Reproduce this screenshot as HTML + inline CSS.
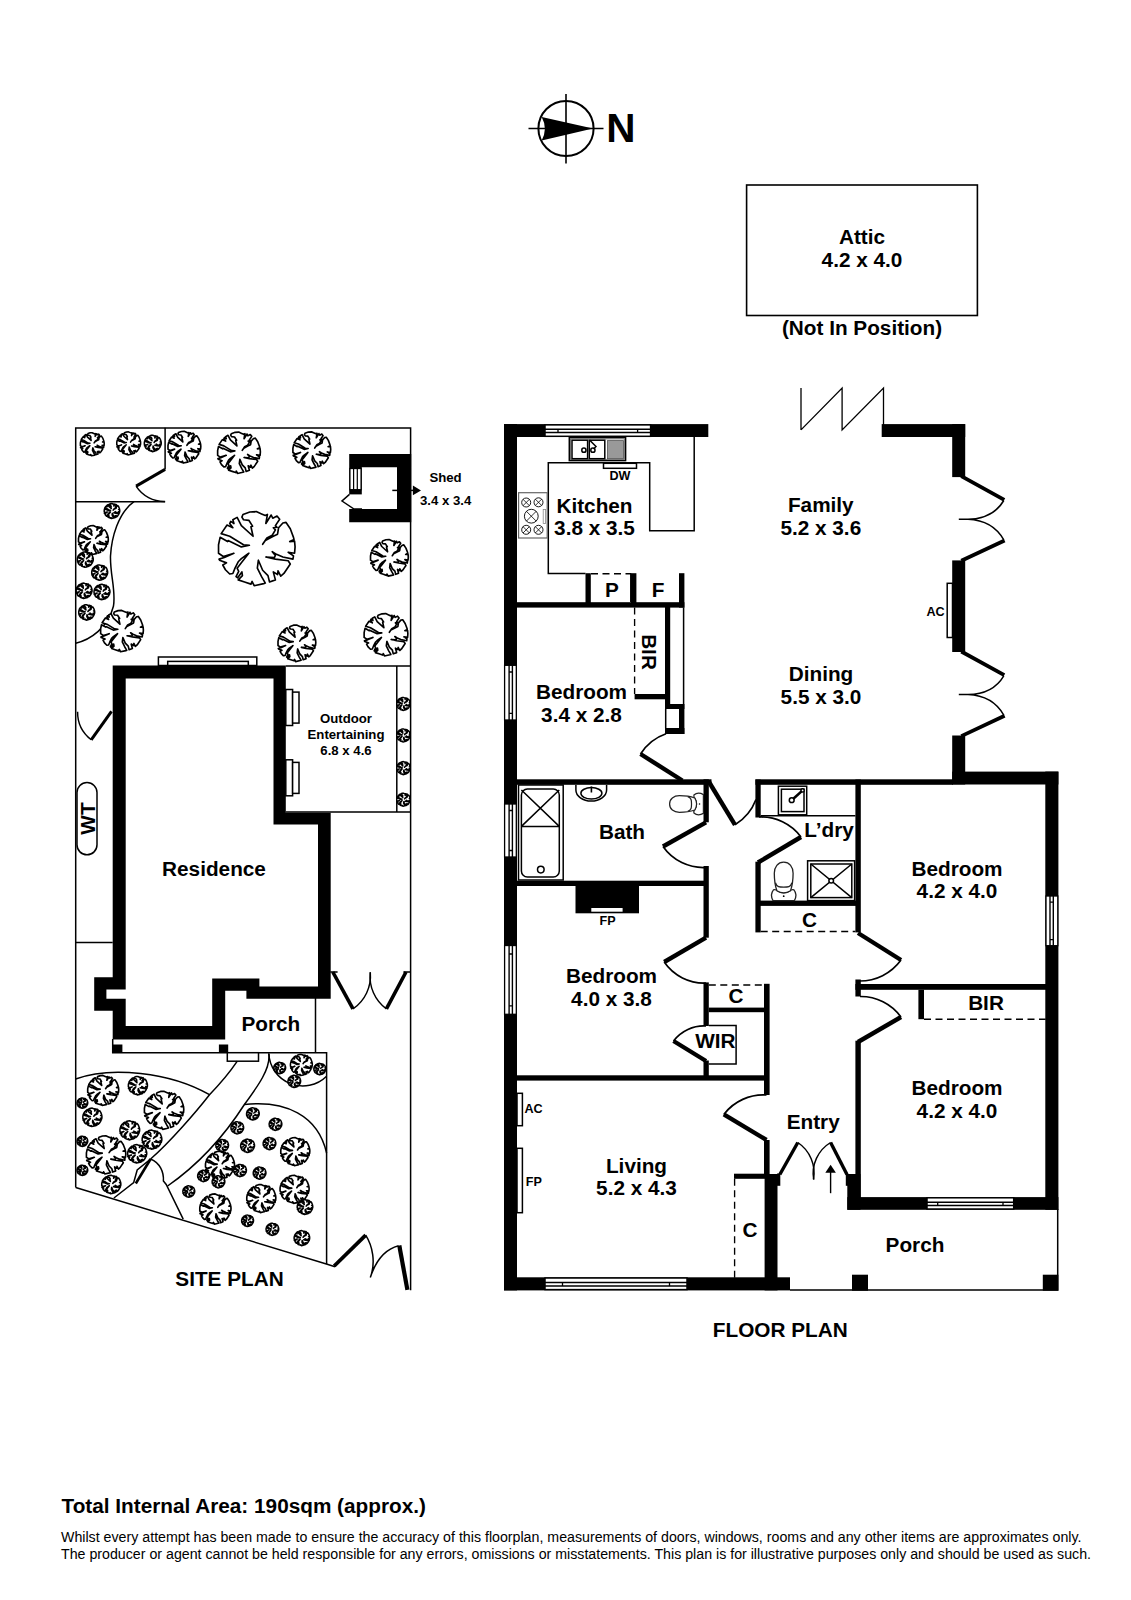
<!DOCTYPE html>
<html><head><meta charset="utf-8"><title>Floor Plan</title>
<style>
html,body{margin:0;padding:0;background:#fff}
body{width:1131px;height:1600px;overflow:hidden;font-family:"Liberation Sans",Arial,sans-serif}
svg{display:block}
text{font-family:"Liberation Sans",Arial,sans-serif;font-weight:bold;fill:#000}
.l{font-size:20.75px;text-anchor:middle}
.s{font-size:12.6px}
.m{font-size:13.2px;text-anchor:middle}
.w{fill:#000;stroke:none}
.t{fill:none;stroke:#000;stroke-width:1.5}
.tw{fill:#fff;stroke:#000;stroke-width:1.5}
.d{fill:none;stroke:#000;stroke-width:1.35;stroke-dasharray:7 4.5}
.dr{fill:none;stroke:#000;stroke-width:4;stroke-linecap:butt}
.g{fill:none;stroke:#777;stroke-width:1}
</style></head><body>
<svg width="1131" height="1600" viewBox="0 0 1131 1600">
<defs><path id="tr" d="M-0.359 -0.884 L-0.180 -0.948 L-0.014 -0.959 L0.124 -0.898 L0.221 -0.856 L0.276 -0.884 L0.235 -0.649 L0.373 -0.870 L0.414 -0.787 L0.525 -0.843 L0.594 -0.760 L0.483 -0.594 L0.525 -0.552 L0.428 -0.539 L0.483 -0.483 L0.401 -0.345 L0.262 -0.276 L0.152 -0.110 L0.221 -0.207 L0.428 -0.318 L0.539 -0.373 L0.566 -0.539 L0.677 -0.663 L0.760 -0.677 L0.870 -0.511 L0.953 -0.290 L0.967 -0.235 L0.856 -0.180 L0.981 -0.193 L0.994 -0.041 L0.981 0.124 L0.815 0.097 L0.953 0.193 L0.939 0.276 L0.677 0.221 L0.511 0.152 L0.401 0.083 L0.483 0.180 L0.456 0.235 L0.235 0.221 L0.483 0.276 L0.815 0.318 L0.870 0.401 L0.704 0.649 L0.622 0.718 L0.552 0.580 L0.539 0.677 L0.428 0.608 L0.483 0.815 L0.331 0.870 L0.290 0.704 L0.152 0.566 L0.041 0.304 L0.014 0.511 L0.124 0.732 L0.221 0.898 L0.180 0.912 L-0.069 0.967 L-0.124 0.856 L-0.152 0.925 L-0.318 0.870 L-0.483 0.815 L-0.373 0.704 L-0.387 0.608 L-0.497 0.760 L-0.539 0.732 L-0.470 0.594 L-0.511 0.511 L-0.401 0.373 L-0.207 0.124 L-0.401 0.262 L-0.483 0.345 L-0.566 0.511 L-0.622 0.649 L-0.704 0.663 L-0.815 0.552 L-0.884 0.428 L-0.787 0.373 L-0.967 0.304 L-0.981 0.276 L-0.843 0.235 L-0.594 0.124 L-0.870 0.207 L-0.994 0.124 L-0.994 -0.097 L-0.953 -0.290 L-0.760 -0.180 L-0.746 -0.207 L-0.401 -0.041 L-0.193 -0.083 L-0.345 -0.097 L-0.704 -0.318 L-0.925 -0.387 L-0.773 -0.608 L-0.622 -0.539 L-0.704 -0.649 L-0.677 -0.704 L-0.594 -0.649 L-0.622 -0.746 L-0.511 -0.809 L-0.401 -0.594 L-0.097 -0.318 L-0.152 -0.566 L-0.110 -0.580 L-0.207 -0.732 L-0.345 -0.746 L-0.387 -0.815Z" fill="#fff" stroke="#000" vector-effect="non-scaling-stroke" stroke-linejoin="round"/></defs>
<rect width="1131" height="1600" fill="#fff"/>

<g id="compass">
<circle cx="566" cy="128.5" r="27.6" fill="none" stroke="#000" stroke-width="2"/>
<path d="M528.5 128.5H603.5M566 94V163.5" stroke="#000" stroke-width="1.6" fill="none"/>
<path d="M593 128.5L541.7 117Q548 128.5 541.7 140.5Z" fill="#000"/>
<text x="606.3" y="141.5" style="font-size:40.5px">N</text>
</g>
<g id="attic">
<rect x="746.6" y="185" width="230.8" height="130.5" class="t" style="stroke-width:1.6"/>
<text x="862" y="243.8" class="l">Attic</text>
<text x="862" y="266.7" class="l">4.2 x 4.0</text>
<text x="862" y="334.6" class="l">(Not In Position)</text>
</g>
<g id="floor">
<rect class="w" x="504.0" y="424.1" width="13.0" height="866.3"/>
<rect class="w" x="504.0" y="424.1" width="204.3" height="12.9"/>
<rect class="w" x="881.7" y="424.1" width="83.5" height="12.9"/>
<rect class="w" x="952.2" y="424.1" width="13.0" height="53.0"/>
<rect class="w" x="952.2" y="560.4" width="13.0" height="91.6"/>
<rect class="w" x="952.2" y="735.5" width="13.0" height="49.0"/>
<rect class="w" x="952.2" y="771.6" width="106.2" height="12.9"/>
<rect class="w" x="1045.3" y="771.6" width="13.1" height="438.2"/>
<rect class="w" x="847.3" y="1197.1" width="211.1" height="12.7"/>
<rect class="w" x="847.3" y="1174.0" width="13.2" height="35.8"/>
<rect class="w" x="764.6" y="1174.0" width="12.9" height="116.4"/>
<rect class="w" x="504.0" y="1277.3" width="286.0" height="13.1"/>
<rect class="w" x="852.0" y="1274.7" width="16.0" height="16.0"/>
<rect class="w" x="1042.8" y="1274.7" width="15.6" height="16.0"/>
<rect class="w" x="517.0" y="602.2" width="167.4" height="5.4"/>
<rect class="w" x="585.5" y="573.2" width="5.3" height="29.8"/>
<rect class="w" x="631.0" y="573.2" width="5.4" height="29.8"/>
<rect class="w" x="679.0" y="573.2" width="5.4" height="34.4"/>
<rect class="w" x="679.0" y="704.0" width="5.4" height="30.0"/>
<rect class="w" x="665.0" y="605.0" width="5.2" height="104.0"/>
<rect class="w" x="665.0" y="704.0" width="19.4" height="5.0"/>
<rect class="w" x="665.0" y="728.0" width="19.4" height="6.0"/>
<rect class="w" x="634.6" y="694.0" width="33.4" height="5.3"/>
<rect class="w" x="517.0" y="779.3" width="194.5" height="5.5"/>
<rect class="w" x="755.4" y="779.3" width="197.6" height="5.5"/>
<rect class="w" x="703.5" y="779.3" width="5.3" height="43.0"/>
<rect class="w" x="703.5" y="866.0" width="5.3" height="71.7"/>
<rect class="w" x="703.5" y="982.4" width="5.3" height="43.6"/>
<rect class="w" x="703.5" y="1060.5" width="5.3" height="17.5"/>
<rect class="w" x="517.0" y="880.7" width="189.0" height="5.3"/>
<rect class="w" x="764.0" y="983.8" width="5.6" height="111.2"/>
<rect class="w" x="764.0" y="1140.0" width="5.6" height="36.0"/>
<rect class="w" x="777.0" y="1173.5" width="3.3" height="12.3"/>
<rect class="w" x="845.8" y="1173.5" width="2.2" height="12.3"/>
<rect class="w" x="708.8" y="1007.6" width="56.2" height="4.6"/>
<rect class="w" x="517.0" y="1075.3" width="249.0" height="5.3"/>
<rect class="w" x="734.0" y="1173.7" width="32.0" height="5.1"/>
<rect class="w" x="755.4" y="779.5" width="5.3" height="38.0"/>
<rect class="w" x="755.4" y="861.7" width="5.3" height="70.7"/>
<rect class="w" x="855.4" y="779.5" width="5.4" height="152.9"/>
<rect class="w" x="855.4" y="979.5" width="5.4" height="17.0"/>
<rect class="w" x="855.4" y="1040.7" width="5.4" height="158.3"/>
<rect class="w" x="758.0" y="900.6" width="100.0" height="5.3"/>
<rect class="w" x="855.4" y="984.0" width="191.6" height="5.8"/>
<rect class="w" x="918.4" y="989.8" width="5.6" height="29.4"/>
<rect class="w" x="575.5" y="886.0" width="63.5" height="27.3"/>
<rect x="545.0" y="424.9" width="105.6" height="11.4" fill="#fff" stroke="#000" stroke-width="1.5"/>
<path d="M545.0 429.3H650.6M545.0 432.6H650.6" stroke="#000" stroke-width="1.5" fill="none"/>
<path d="M558.0 429.3V432.6M637.6 429.3V432.6" stroke="#000" stroke-width="1.3" fill="none"/>
<rect x="545.0" y="1278.0" width="142.0" height="11.6" fill="#fff" stroke="#000" stroke-width="1.5"/>
<path d="M545.0 1282.5H687.0M545.0 1285.9H687.0" stroke="#000" stroke-width="1.5" fill="none"/>
<path d="M562.5 1282.5V1285.9M669.5 1282.5V1285.9" stroke="#000" stroke-width="1.3" fill="none"/>
<rect x="927.0" y="1197.8" width="86.7" height="11.2" fill="#fff" stroke="#000" stroke-width="1.5"/>
<path d="M927.0 1202.2H1013.7M927.0 1205.5H1013.7" stroke="#000" stroke-width="1.5" fill="none"/>
<path d="M937.7 1202.2V1205.5M1003.0 1202.2V1205.5" stroke="#000" stroke-width="1.3" fill="none"/>
<rect x="504.6" y="665.3" width="11.7" height="54.7" fill="#fff" stroke="#000" stroke-width="1.3"/>
<path d="M509.1 665.3V720.0M512.4 665.3V720.0" stroke="#000" stroke-width="1.4" fill="none"/>
<path d="M509.1 672.0H512.4M509.1 713.3H512.4" stroke="#000" stroke-width="1.3" fill="none"/>
<rect x="504.6" y="804.0" width="11.7" height="53.0" fill="#fff" stroke="#000" stroke-width="1.3"/>
<path d="M509.1 804.0V857.0M512.4 804.0V857.0" stroke="#000" stroke-width="1.4" fill="none"/>
<path d="M509.1 810.5H512.4M509.1 850.5H512.4" stroke="#000" stroke-width="1.3" fill="none"/>
<rect x="504.6" y="945.5" width="11.7" height="68.8" fill="#fff" stroke="#000" stroke-width="1.3"/>
<path d="M509.1 945.5V1014.3M512.4 945.5V1014.3" stroke="#000" stroke-width="1.4" fill="none"/>
<path d="M509.1 954.0H512.4M509.1 1005.8H512.4" stroke="#000" stroke-width="1.3" fill="none"/>
<rect x="1046.0" y="896.0" width="11.8" height="49.7" fill="#fff" stroke="#000" stroke-width="1.3"/>
<path d="M1053.3 896.0V945.7M1050.0 896.0V945.7" stroke="#000" stroke-width="1.4" fill="none"/>
<path d="M1053.3 902.1H1050.0M1053.3 939.6H1050.0" stroke="#000" stroke-width="1.3" fill="none"/>
<rect x="591.3" y="908" width="31.3" height="3.7" fill="#fff"/>
<path class="t" d="M694.2 437V530.8H649.7V462.8H548.3V573.5H585.5"/>
<path class="t" d="M630.8 573.5V602"/>
<path class="d" d="M591 573.7H631"/>
<rect class="tw" x="603.5" y="463.3" width="33" height="5"/>
<rect class="tw" x="569.3" y="437.6" width="56.3" height="23"/><rect class="t" x="570.6" y="438.9" width="53.7" height="20.4" style="stroke:#555;stroke-width:.8"/>
<rect class="tw" x="572" y="440.2" width="15.6" height="18.5"/><rect class="tw" x="589.3" y="440.2" width="15.5" height="18.5"/>
<rect x="607.5" y="440.6" width="16" height="18" fill="#999" stroke="#555" stroke-width=".8"/>
<circle cx="583.9" cy="450.2" r="2.1" class="tw"/><circle cx="592.9" cy="450.2" r="2.1" class="tw"/><path class="t" d="M589.5 440L596 446.5L593.5 449"/>
<rect x="518.6" y="492.7" width="28.6" height="45.3" fill="#fff" stroke="#666" stroke-width="1.2"/>
<circle cx="526.2" cy="502.5" r="4.5" class="tw" style="stroke-width:.9"/><path d="M523.0 499.3L529.4 505.7M529.4 499.3L523.0 505.7" class="t" style="stroke-width:.8"/>
<circle cx="538.5" cy="502.3" r="4.5" class="tw" style="stroke-width:.9"/><path d="M535.3 499.1L541.7 505.5M541.7 499.1L535.3 505.5" class="t" style="stroke-width:.8"/>
<circle cx="531.3" cy="516.2" r="6.9" class="tw" style="stroke-width:.9"/><path d="M526.3 511.2L536.3 521.2M536.3 511.2L526.3 521.2" class="t" style="stroke-width:.8"/>
<circle cx="526.2" cy="529.8" r="4.5" class="tw" style="stroke-width:.9"/><path d="M523.0 526.6L529.4 533.0M529.4 526.6L523.0 533.0" class="t" style="stroke-width:.8"/>
<circle cx="538.5" cy="529.8" r="4.5" class="tw" style="stroke-width:.9"/><path d="M535.3 526.6L541.7 533.0M541.7 526.6L535.3 533.0" class="t" style="stroke-width:.8"/>
<rect x="543.2" y="509.5" width="2.4" height="14" fill="none" stroke="#888" stroke-width=".8"/>
<path class="d" d="M634.6 607.6V694"/>
<path class="t" d="M683.6 607.6V704M665.7 709V728"/>
<rect class="tw" x="517" y="1093.3" width="5.4" height="32.4"/>
<rect class="tw" x="517" y="1148.3" width="5.4" height="64.4"/>
<rect class="tw" x="947.2" y="583.3" width="5.3" height="54.2"/>
<rect class="tw" x="518.5" y="785" width="44.7" height="95"/>
<rect class="tw" x="521.4" y="789" width="37.9" height="88" rx="6" ry="6"/>
<path class="t" d="M521.4 790L559.3 826.4M559.3 790L521.4 826.4M521.4 826.4H559.3"/>
<circle cx="540.8" cy="869.6" r="3.3" class="tw"/>
<path class="tw" d="M575.9 785V790A15.3 11 0 0 0 606.6 790V785"/>
<ellipse cx="591.4" cy="793.3" rx="10.5" ry="5.7" class="tw"/><path class="t" d="M591.4 786.5V792.5" style="stroke-width:1.6"/>
<g transform="translate(703.4 804) rotate(-90) scale(.88)" style="stroke-width:1.3"><path class="tw" style="stroke-width:1.4;stroke:#222" d="M-10.7 0C-12.7 -3.8 -12.7 -7.8 -10.2 -10.8C-7.7 -11.3 -6.7 -10.3 -5.7 -9.3C-2.7 -7.3 2.7 -7.3 5.7 -9.3C6.7 -10.3 7.7 -11.3 10.2 -10.8C12.7 -7.8 12.7 -3.8 10.7 0Z"/><path class="tw" style="stroke-width:1.4;stroke:#222" d="M-6.8 -9.8C-8.6 -14.8 -9.4 -20.8 -9.4 -27.3C-9.4 -33.8 -5.8 -38.4 0 -38.4C5.8 -38.4 9.4 -33.8 9.4 -27.3C9.4 -20.8 8.6 -14.8 6.8 -9.8C2.7 -7.3 -2.7 -7.3 -6.8 -9.8Z"/><path class="t" style="stroke-width:1.4;stroke:#222" d="M-8.3 -17.8C-7 -13.5 -4 -13.5 0 -13.5C4 -13.5 7 -13.5 8.3 -17.8"/><circle cx="0" cy="-4.4" r=".9" fill="#000"/></g>
<path class="t" d="M708.8 1025.6H736.1V1064H708.8"/>
<path class="d" d="M708.8 985H763.2"/>
<path class="d" d="M734.6 1178.8V1277.7"/>
<path class="t" d="M760.7 815.7H855.4"/>
<rect class="tw" x="778.4" y="786.2" width="28.3" height="28.6"/><rect class="tw" x="781.4" y="789.2" width="22.6" height="22.4"/>
<path class="t" d="M791.7 800.2L802.6 790.4" style="stroke-width:2.6"/><circle cx="791.7" cy="800.2" r="2.4" class="tw"/><circle cx="802.6" cy="790.4" r="1.6" class="tw"/>
<rect class="tw" x="807.6" y="860.8" width="47" height="39.8"/><rect class="tw" x="810.8" y="864" width="41" height="33.6"/>
<path class="t" d="M810.8 864L851.8 897.6M851.8 864L810.8 897.6"/><circle cx="831.2" cy="880.8" r="2.3" class="tw"/>
<g transform="translate(783.7 900.6)"><path class="tw" style="stroke-width:1.3;stroke:#222" d="M-10.7 0C-12.7 -3.8 -12.7 -7.8 -10.2 -10.8C-7.7 -11.3 -6.7 -10.3 -5.7 -9.3C-2.7 -7.3 2.7 -7.3 5.7 -9.3C6.7 -10.3 7.7 -11.3 10.2 -10.8C12.7 -7.8 12.7 -3.8 10.7 0Z"/><path class="tw" style="stroke-width:1.3;stroke:#222" d="M-6.8 -9.8C-8.6 -14.8 -9.4 -20.8 -9.4 -27.3C-9.4 -33.8 -5.8 -38.4 0 -38.4C5.8 -38.4 9.4 -33.8 9.4 -27.3C9.4 -20.8 8.6 -14.8 6.8 -9.8C2.7 -7.3 -2.7 -7.3 -6.8 -9.8Z"/><path class="t" style="stroke-width:1.3;stroke:#222" d="M-8.3 -17.8C-7 -13.5 -4 -13.5 0 -13.5C4 -13.5 7 -13.5 8.3 -17.8"/><circle cx="0" cy="-4.4" r=".9" fill="#000"/></g>
<path class="d" d="M760.7 931.5H855.4"/>
<path class="d" d="M924 1019.2H1045.7"/>
<path class="t" d="M1057.7 1209V1290.1H790"/>
<path class="t" d="M801 429.9V388M801 429.9L842.1 388V429.9L883.5 388V425" style="stroke-width:1.3"/>
<path class="t" d="M640.5 754.0A49.5 49.5 0 0 1 666.0 733.7" style="stroke-width:1.7"/>
<path class="dr" d="M682.3 780.5L640.5 754.0" style="stroke-width:4.4"/>
<path class="t" d="M735.0 824.8A51.2 51.2 0 0 0 756.0 799.5" style="stroke-width:1.7"/>
<path class="dr" d="M708.4 781.0L735.0 824.8" style="stroke-width:4.4"/>
<path class="t" d="M663.0 846.5A49.3 49.3 0 0 0 706.0 867.5" style="stroke-width:1.7"/>
<path class="dr" d="M706.0 822.3L663.0 846.5" style="stroke-width:4.4"/>
<path class="t" d="M664.2 962.0A48.4 48.4 0 0 0 706.0 983.0" style="stroke-width:1.7"/>
<path class="dr" d="M706.0 937.7L664.2 962.0" style="stroke-width:4.4"/>
<path class="t" d="M673.5 1041.0A38.2 38.2 0 0 1 706.0 1026.0" style="stroke-width:1.7"/>
<path class="dr" d="M706.0 1061.0L673.5 1041.0" style="stroke-width:4.4"/>
<path class="t" d="M723.8 1114.4A49.8 49.8 0 0 1 766.5 1095.0" style="stroke-width:1.7"/>
<path class="dr" d="M766.5 1140.0L723.8 1114.4" style="stroke-width:4.4"/>
<path class="t" d="M801.0 837.0A50.0 50.0 0 0 0 759.0 817.0" style="stroke-width:1.7"/>
<path class="dr" d="M758.0 862.5L801.0 837.0" style="stroke-width:4.4"/>
<path class="t" d="M901.0 960.0A50.8 50.8 0 0 1 859.0 981.0" style="stroke-width:1.7"/>
<path class="dr" d="M858.0 933.0L901.0 960.0" style="stroke-width:4.4"/>
<path class="t" d="M901.0 1017.0A49.7 49.7 0 0 0 860.0 996.5" style="stroke-width:1.7"/>
<path class="dr" d="M858.0 1042.0L901.0 1017.0" style="stroke-width:4.4"/>
<path class="t" d="M797.8 1142.5A36.7 36.7 0 0 1 813.5 1179.5" style="stroke-width:1.45"/>
<path class="dr" d="M779.8 1174.5L797.8 1142.5" style="stroke-width:3.4"/>
<path class="t" d="M830.6 1142.5A36.0 36.0 0 0 0 813.7 1179.5" style="stroke-width:1.45"/>
<path class="dr" d="M847.0 1174.5L830.6 1142.5" style="stroke-width:3.4"/>
<path class="t" d="M830.6 1193.2V1170" style="stroke-width:1.4"/><path d="M830.6 1164.8L825.3 1172.7H835.9Z" fill="#000"/>
<g transform="translate(0 0.0)">
<path class="dr" d="M961.3 476.2L1004.3 499.9M1004.6 540.5L961.3 560.8" style="stroke-width:3.8"/>
<path class="t" d="M1003.8 500.5C997 512 985 519 968 519.3H958.8M968 519.3C985 520 997 528 1003.8 539.9" style="stroke-width:1.5"/>
</g>
<g transform="translate(0 175.3)">
<path class="dr" d="M961.3 476.2L1004.3 499.9M1004.6 540.5L961.3 560.8" style="stroke-width:3.8"/>
<path class="t" d="M1003.8 500.5C997 512 985 519 968 519.3H958.8M968 519.3C985 520 997 528 1003.8 539.9" style="stroke-width:1.5"/>
</g>
<text x="594.5" y="512.7" class="l">Kitchen</text>
<text x="594.5" y="535.4" class="l">3.8 x 3.5</text>
<text x="820.8" y="512.3" class="l">Family</text>
<text x="820.8" y="535.0" class="l">5.2 x 3.6</text>
<text x="821.0" y="681.2" class="l">Dining</text>
<text x="821.0" y="703.9" class="l">5.5 x 3.0</text>
<text x="581.5" y="699.2" class="l">Bedroom</text>
<text x="581.5" y="721.9" class="l">3.4 x 2.8</text>
<text x="622.0" y="838.8" class="l">Bath</text>
<text x="829.0" y="836.5" class="l">L’dry</text>
<text x="957.0" y="875.5" class="l">Bedroom</text>
<text x="957.0" y="898.2" class="l">4.2 x 4.0</text>
<text x="611.5" y="983.0" class="l">Bedroom</text>
<text x="611.5" y="1005.7" class="l">4.0 x 3.8</text>
<text x="957.0" y="1095.3" class="l">Bedroom</text>
<text x="957.0" y="1118.0" class="l">4.2 x 4.0</text>
<text x="636.5" y="1172.5" class="l">Living</text>
<text x="636.5" y="1195.2" class="l">5.2 x 4.3</text>
<text x="813.2" y="1129.3" class="l">Entry</text>
<text x="915.0" y="1251.5" class="l">Porch</text>
<text x="612.0" y="596.8" class="l">P</text>
<text x="658.0" y="596.8" class="l">F</text>
<text x="809.5" y="926.5" class="l">C</text>
<text x="736.0" y="1003.2" class="l">C</text>
<text x="750.0" y="1236.5" class="l">C</text>
<text x="715.3" y="1047.7" class="l">WIR</text>
<text x="986.0" y="1010.2" class="l">BIR</text>
<text class="l" transform="translate(641.5 652) rotate(90)">BIR</text>
<text class="s" x="609.5" y="479.8">DW</text>
<text class="s" x="599.5" y="924.5">FP</text>
<text class="s" x="524.5" y="1113">AC</text>
<text class="s" x="525.8" y="1186.2">FP</text>
<text class="s" x="926.5" y="615.5">AC</text>
<text class="l" x="780.3" y="1337.3" style="font-size:20.75px">FLOOR PLAN</text>
</g>
<g id="site">
<path class="t" d="M75.7 1187.5V428H410.6V1290.3"/>
<path class="t" d="M75.7 1187.5L327.2 1264.3L335 1266.8"/>
<path class="t" d="M165.1 427.8V469.4M75.6 501.7H165.1"/>
<path class="t" d="M136.1 486.1A33.5 33.5 0 0 0 165.1 501.5" style="stroke-width:1.45"/>
<path class="dr" d="M165.1 469.4L136.1 486.1" style="stroke-width:3"/>
<path class="t" d="M134 501.7C118 513 111.5 538 110.5 556C110 575 116 590 113.5 606C108 628 90 640 75.7 643.2"/>
<path class="w" fill-rule="evenodd" d="M112.7 665.5H285.8V812.7H330.7V998.8H246.4V990.7H225.2V1039.5H112.7V1010.7H94.2V977.3H112.7Z M125.7 678.5V989.5H106.4V998.8H125.7V1026H212.2V978.4H259.4V986.6H318V824.5H273.5V678.5Z"/>
<path class="t" d="M285.8 666H410.6M285.8 812H410.6M396.8 666V812"/>
<rect class="tw" x="158.4" y="657" width="98.4" height="8.5"/><rect class="tw" x="167.7" y="661.4" width="80.6" height="4.1"/>
<rect class="tw" x="285.8" y="689.5" width="6.8" height="36"/><rect class="tw" x="292.6" y="692.1" width="6.4" height="31"/>
<rect class="tw" x="285.8" y="759.8" width="6.8" height="36"/><rect class="tw" x="292.6" y="762.4" width="6.4" height="31"/>
<use href="#tr" transform="translate(403.5 703.9) rotate(0) scale(6.80)" stroke-width="1.45"/>
<use href="#tr" transform="translate(403.5 735.4) rotate(0) scale(6.80)" stroke-width="1.45"/>
<use href="#tr" transform="translate(403.5 768.1) rotate(0) scale(6.80)" stroke-width="1.45"/>
<use href="#tr" transform="translate(403.5 799.7) rotate(0) scale(6.80)" stroke-width="1.45"/>
<path class="w" fill-rule="evenodd" d="M349.2 453.9H411.2V522.2H349.2Z M361.8 467.2V509H397V467.2Z"/>
<rect x="348" y="494.4" width="14.2" height="14.6" fill="#fff"/>
<rect x="349.9" y="468.5" width="11.2" height="21.2" fill="#fff" stroke="#000" stroke-width="1.3"/><path class="t" d="M353.6 468.5V489.7M357.3 468.5V489.7" style="stroke-width:1.2"/>
<path class="t" d="M349.5 494.4L342 501L354 509H362"/>
<path class="t" d="M392.3 490.4H413"/><path d="M421 490.4L412.9 485.6V495.2Z" fill="#000"/>
<text class="m" x="445.5" y="481.8">Shed</text><text class="m" x="445.7" y="504.6">3.4 x 3.4</text>
<path class="t" d="M75.6 942.4H112.7"/>
<path class="t" d="M91.2 739.8A34.9 34.9 0 0 1 77.6 711.8" style="stroke-width:1.45"/>
<path class="dr" d="M111.5 711.4L91.2 739.8" style="stroke-width:3"/>
<rect class="tw" x="77" y="782.6" width="20" height="72.2" rx="10" ry="10"/>
<text class="l" transform="translate(95 818.5) rotate(-90)">WT</text>
<path class="t" d="M315.5 998V1052.7M112.7 1039V1052.7H326.6V1264"/>
<rect class="w" x="112.7" y="1044.5" width="9.7" height="8.2"/><rect class="w" x="218.9" y="1044.5" width="9.3" height="8.2"/>
<rect class="tw" x="227.3" y="1052.7" width="31.2" height="8.5"/>
<path class="t" d="M330.3 972H337.6M403.4 972H410.6"/>
<path class="t" d="M353.0 1008.9A40.0 40.0 0 0 0 370.3 972.3" style="stroke-width:1.45"/>
<path class="dr" d="M332.8 972.0L353.0 1008.9" style="stroke-width:3.6"/>
<path class="t" d="M386.4 1008.9A40.0 40.0 0 0 1 370.3 972.3" style="stroke-width:1.45"/>
<path class="dr" d="M406.0 972.0L386.4 1008.9" style="stroke-width:3.6"/>
<path class="dr" d="M334.2 1266L365.7 1235.2" style="stroke-width:3.8"/><path class="t" d="M365.7 1235.2C372.5 1246 376 1262 370.3 1277.6C376 1260 386 1249 398.6 1245.8"/><path class="dr" d="M399.3 1245.5L407.4 1289.8" style="stroke-width:4.2"/>
<path class="t" d="M237.3 1061.2C228 1075 218 1086 209.5 1094.7C196 1112 170 1142 150.6 1159"/>
<path class="t" d="M268.8 1053.5C271 1068 258 1086 244.4 1104.5C230 1127 205 1160 167.6 1186"/>
<path class="t" d="M75.6 1079C110 1066 170 1072 209.5 1094.7"/>
<path class="t" d="M244.4 1104.5C285 1100 318 1115 326.6 1153"/>
<path class="t" d="M268.8 1053.5A34 34 0 0 0 326.6 1076.2"/>
<path class="t" d="M150.6 1159L137.2 1170L133.7 1182.5L113.9 1198"/><path class="dr" d="M150.6 1159L135.8 1183.5" style="stroke-width:2.6"/>
<path class="t" d="M150.6 1159C160 1163 164 1172 163.4 1181L166.2 1184.5L183.2 1219.1"/>
<use href="#tr" transform="translate(92.3 444.2) rotate(0) scale(12.00)" stroke-width="1.55"/>
<use href="#tr" transform="translate(128.7 443.4) rotate(0) scale(12.00)" stroke-width="1.55"/>
<use href="#tr" transform="translate(152.8 443.4) rotate(0) scale(8.50)" stroke-width="1.55"/>
<use href="#tr" transform="translate(184.4 447.1) rotate(0) scale(16.50)" stroke-width="1.65"/>
<use href="#tr" transform="translate(239.0 452.7) rotate(0) scale(21.50)" stroke-width="1.65"/>
<use href="#tr" transform="translate(311.8 450.1) rotate(0) scale(19.00)" stroke-width="1.65"/>
<use href="#tr" transform="translate(256.8 548.5) rotate(0) scale(38.50)" stroke-width="1.65"/>
<use href="#tr" transform="translate(389.4 557.8) rotate(0) scale(19.00)" stroke-width="1.65"/>
<use href="#tr" transform="translate(386.0 634.7) rotate(0) scale(22.00)" stroke-width="1.65"/>
<use href="#tr" transform="translate(296.9 643.2) rotate(0) scale(19.00)" stroke-width="1.65"/>
<use href="#tr" transform="translate(122.0 631.0) rotate(0) scale(21.50)" stroke-width="1.65"/>
<use href="#tr" transform="translate(112.0 511.0) rotate(0) scale(7.80)" stroke-width="1.55"/>
<use href="#tr" transform="translate(93.4 540.0) rotate(0) scale(15.00)" stroke-width="1.65"/>
<use href="#tr" transform="translate(85.3 559.6) rotate(0) scale(8.00)" stroke-width="1.55"/>
<use href="#tr" transform="translate(99.7 572.6) rotate(0) scale(8.00)" stroke-width="1.55"/>
<use href="#tr" transform="translate(84.1 590.8) rotate(0) scale(8.00)" stroke-width="1.55"/>
<use href="#tr" transform="translate(102.0 592.0) rotate(0) scale(8.00)" stroke-width="1.55"/>
<use href="#tr" transform="translate(86.7 612.4) rotate(0) scale(8.00)" stroke-width="1.55"/>
<use href="#tr" transform="translate(103.2 1090.4) rotate(0) scale(15.60)" stroke-width="1.65"/>
<use href="#tr" transform="translate(137.9 1085.7) rotate(0) scale(9.60)" stroke-width="1.55"/>
<use href="#tr" transform="translate(82.4 1103.1) rotate(0) scale(5.40)" stroke-width="1.45"/>
<use href="#tr" transform="translate(92.4 1117.3) rotate(0) scale(9.60)" stroke-width="1.55"/>
<use href="#tr" transform="translate(164.1 1110.2) rotate(0) scale(19.80)" stroke-width="1.65"/>
<use href="#tr" transform="translate(129.8 1130.3) rotate(0) scale(9.90)" stroke-width="1.55"/>
<use href="#tr" transform="translate(152.0 1139.6) rotate(0) scale(9.90)" stroke-width="1.55"/>
<use href="#tr" transform="translate(82.4 1141.3) rotate(0) scale(5.40)" stroke-width="1.45"/>
<use href="#tr" transform="translate(106.1 1154.8) rotate(0) scale(19.80)" stroke-width="1.65"/>
<use href="#tr" transform="translate(137.2 1153.8) rotate(0) scale(9.60)" stroke-width="1.55"/>
<use href="#tr" transform="translate(82.4 1170.3) rotate(0) scale(5.40)" stroke-width="1.45"/>
<use href="#tr" transform="translate(111.3 1184.5) rotate(0) scale(9.60)" stroke-width="1.55"/>
<use href="#tr" transform="translate(279.7 1068.0) rotate(0) scale(6.00)" stroke-width="1.45"/>
<use href="#tr" transform="translate(301.4 1064.9) rotate(0) scale(11.00)" stroke-width="1.55"/>
<use href="#tr" transform="translate(319.8 1069.1) rotate(0) scale(6.00)" stroke-width="1.45"/>
<use href="#tr" transform="translate(294.3 1081.4) rotate(0) scale(6.40)" stroke-width="1.45"/>
<use href="#tr" transform="translate(252.9 1113.9) rotate(0) scale(6.40)" stroke-width="1.45"/>
<use href="#tr" transform="translate(275.5 1124.3) rotate(0) scale(6.40)" stroke-width="1.45"/>
<use href="#tr" transform="translate(237.3 1127.8) rotate(0) scale(6.40)" stroke-width="1.45"/>
<use href="#tr" transform="translate(222.2 1145.5) rotate(0) scale(6.40)" stroke-width="1.45"/>
<use href="#tr" transform="translate(247.6 1145.8) rotate(0) scale(7.00)" stroke-width="1.45"/>
<use href="#tr" transform="translate(269.5 1143.6) rotate(0) scale(6.40)" stroke-width="1.45"/>
<use href="#tr" transform="translate(295.3 1151.6) rotate(0) scale(14.60)" stroke-width="1.65"/>
<use href="#tr" transform="translate(220.0 1165.3) rotate(0) scale(14.60)" stroke-width="1.65"/>
<use href="#tr" transform="translate(240.1 1170.5) rotate(0) scale(6.40)" stroke-width="1.45"/>
<use href="#tr" transform="translate(259.6 1173.1) rotate(0) scale(6.40)" stroke-width="1.45"/>
<use href="#tr" transform="translate(203.6 1175.9) rotate(0) scale(6.00)" stroke-width="1.45"/>
<use href="#tr" transform="translate(218.5 1181.8) rotate(0) scale(6.40)" stroke-width="1.45"/>
<use href="#tr" transform="translate(188.8 1191.5) rotate(0) scale(6.00)" stroke-width="1.45"/>
<use href="#tr" transform="translate(294.6 1189.3) rotate(0) scale(14.60)" stroke-width="1.65"/>
<use href="#tr" transform="translate(261.3 1198.5) rotate(0) scale(14.60)" stroke-width="1.65"/>
<use href="#tr" transform="translate(215.4 1209.0) rotate(0) scale(15.70)" stroke-width="1.65"/>
<use href="#tr" transform="translate(305.0 1207.0) rotate(0) scale(7.80)" stroke-width="1.55"/>
<use href="#tr" transform="translate(247.6 1220.8) rotate(0) scale(6.00)" stroke-width="1.45"/>
<use href="#tr" transform="translate(272.4 1229.3) rotate(0) scale(6.40)" stroke-width="1.45"/>
<use href="#tr" transform="translate(301.9 1238.1) rotate(0) scale(7.80)" stroke-width="1.55"/>
<text class="l" x="229.5" y="1286">SITE PLAN</text>
<text class="l" x="214" y="876.4">Residence</text>
<text class="l" x="270.8" y="1030.8">Porch</text>
<text class="m" x="346" y="722.5">Outdoor</text><text class="m" x="346" y="738.8">Entertaining</text><text class="m" x="346" y="754.5">6.8 x 4.6</text>
</g>
<text x="61.5" y="1513.3" style="font-size:20.75px">Total Internal Area: 190sqm (approx.)</text>
<text x="61" y="1542.3" style="font-size:14.21px;font-weight:normal">Whilst every attempt has been made to ensure the accuracy of this floorplan, measurements of doors, windows, rooms and any other items are approximates only.</text>
<text x="61" y="1559.2" style="font-size:14.21px;font-weight:normal">The producer or agent cannot be held responsible for any errors, omissions or misstatements. This plan is for illustrative purposes only and should be used as such.</text>
</svg></body></html>
